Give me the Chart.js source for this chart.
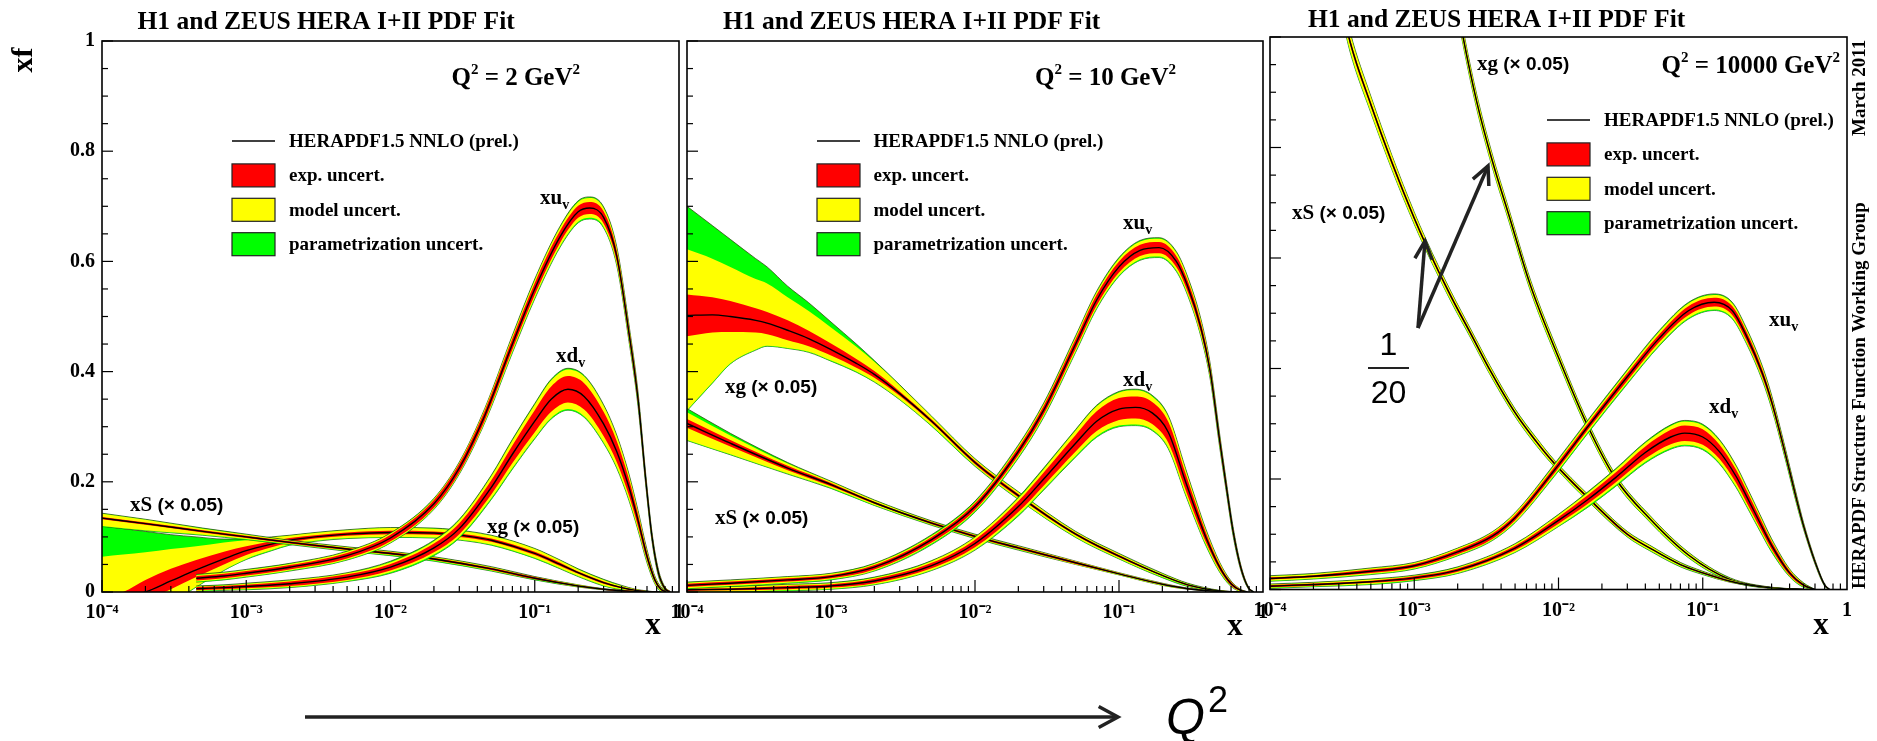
<!DOCTYPE html>
<html>
<head>
<meta charset="utf-8">
<title>HERAPDF1.5 NNLO</title>
<script src="https://cdn.jsdelivr.net/npm/chart.js@4.4.1/dist/chart.umd.min.js"></script>
<style>
html,body{margin:0;padding:0;background:#fff;}
#wrap{position:relative;width:1877px;height:741px;overflow:hidden;background:#fff;}
#wrap canvas{position:absolute;left:0;top:0;}
</style>
</head>
<body>
<div id="wrap">
<canvas id="c1" width="1877" height="741"></canvas>
<canvas id="c2" width="1877" height="741"></canvas>
<canvas id="c3" width="1877" height="741"></canvas>
</div>
<script>
// ---------------- tick labels ----------------
const X_TICKS = [1e-4, 1e-3, 1e-2, 1e-1, 1];
const X_TICK_LABELS = ['10\u207B\u2074', '10\u207B\u00B3', '10\u207B\u00B2', '10\u207B\u00B9', '1'];
const Y_TICKS = [0, 0.2, 0.4, 0.6, 0.8, 1];
const Y_TICK_LABELS = ['0', '0.2', '0.4', '0.6', '0.8', '1'];
const Q2_VALUES = ['2', '10', '10000'];

// ---------------- panel 1 : Q2 = 2 GeV2 ----------------
const P1_XUV_X = [4.5e-4, 7e-4, 1e-3, 2e-3, 5e-3, 1e-2, 2e-2, 3e-2, 4.5e-2, 7e-2, 0.1, 0.15, 0.2, 0.24, 0.3, 0.37, 0.45, 0.52, 0.59, 0.65, 0.72, 0.8, 0.87];
const P1_XUV = [0.025, 0.029, 0.034, 0.045, 0.066, 0.098, 0.16, 0.225, 0.32, 0.45, 0.55, 0.645, 0.69, 0.697, 0.68, 0.61, 0.47, 0.35, 0.2, 0.1, 0.035, 0.006, 0];
const P1_XUV_EXP = [0.004, 0.004, 0.004, 0.004, 0.005, 0.006, 0.007, 0.008, 0.009, 0.01, 0.011, 0.011, 0.011, 0.011, 0.011, 0.01, 0.009, 0.008, 0.006, 0.004, 0.003, 0.002, 0.001];
const P1_XUV_MOD = [0.006, 0.006, 0.006, 0.006, 0.007, 0.008, 0.009, 0.01, 0.012, 0.014, 0.016, 0.017, 0.018, 0.018, 0.017, 0.015, 0.013, 0.011, 0.009, 0.007, 0.005, 0.003, 0.001];
const P1_XUV_PAR = [0.007, 0.007, 0.007, 0.007, 0.008, 0.009, 0.01, 0.011, 0.013, 0.016, 0.018, 0.019, 0.02, 0.02, 0.019, 0.017, 0.015, 0.013, 0.01, 0.008, 0.006, 0.003, 0.001];

const P1_XDV_X = [4.5e-4, 7e-4, 1e-3, 2e-3, 5e-3, 1e-2, 2e-2, 3e-2, 5e-2, 7e-2, 0.1, 0.13, 0.17, 0.22, 0.3, 0.37, 0.45, 0.52, 0.6, 0.68, 0.75, 0.82];
const P1_XDV = [0.006, 0.008, 0.01, 0.015, 0.027, 0.045, 0.08, 0.115, 0.19, 0.25, 0.31, 0.35, 0.368, 0.355, 0.305, 0.255, 0.19, 0.13, 0.065, 0.022, 0.005, 0];
const P1_XDV_EXP = [0.003, 0.003, 0.003, 0.004, 0.005, 0.006, 0.008, 0.01, 0.013, 0.016, 0.02, 0.023, 0.024, 0.024, 0.022, 0.019, 0.015, 0.011, 0.007, 0.004, 0.002, 0.001];
const P1_XDV_MOD = [0.004, 0.004, 0.005, 0.006, 0.007, 0.009, 0.012, 0.015, 0.02, 0.025, 0.03, 0.034, 0.036, 0.036, 0.033, 0.028, 0.022, 0.016, 0.01, 0.006, 0.003, 0.001];
const P1_XDV_PAR = [0.005, 0.005, 0.006, 0.007, 0.008, 0.011, 0.014, 0.017, 0.022, 0.027, 0.032, 0.036, 0.038, 0.038, 0.035, 0.03, 0.024, 0.018, 0.012, 0.007, 0.004, 0.001];

const P1_XS_X = [1e-4, 2e-4, 5e-4, 1e-3, 2e-3, 5e-3, 1e-2, 2e-2, 5e-2, 0.1, 0.2, 0.3, 0.45, 0.6, 0.75];
const P1_XS = [0.134, 0.124, 0.11, 0.1, 0.09, 0.078, 0.07, 0.06, 0.042, 0.025, 0.011, 0.005, 0.0015, 0.0003, 0];
const P1_XS_EXP = [0.002, 0.002, 0.002, 0.002, 0.002, 0.002, 0.002, 0.002, 0.002, 0.002, 0.001, 0.001, 0.001, 0, 0];
const P1_XS_MOD_UP = [0.008, 0.007, 0.005, 0.004, 0.003, 0.003, 0.003, 0.003, 0.003, 0.002, 0.002, 0.001, 0.001, 0, 0];
const P1_XS_MOD_DN = [0.014, 0.012, 0.006, 0.004, 0.003, 0.003, 0.003, 0.003, 0.003, 0.002, 0.002, 0.001, 0.001, 0, 0];
const P1_XS_PAR_UP = [0.009, 0.008, 0.006, 0.005, 0.004, 0.004, 0.004, 0.004, 0.004, 0.003, 0.002, 0.001, 0.001, 0, 0];
const P1_XS_PAR_DN = [0.015, 0.013, 0.007, 0.005, 0.004, 0.004, 0.004, 0.004, 0.004, 0.003, 0.002, 0.001, 0.001, 0, 0];

const P1_XG_X = [1e-4, 1.4e-4, 2e-4, 3e-4, 4.5e-4, 7e-4, 1e-3, 1.5e-3, 2e-3, 3e-3, 5e-3, 1e-2, 2e-2, 3.5e-2, 5e-2, 0.1, 0.15, 0.2, 0.3, 0.4, 0.5, 0.6, 0.7];
const P1_XG = [-0.025, -0.01, 0.0, 0.02, 0.04, 0.06, 0.075, 0.087, 0.094, 0.1, 0.105, 0.108, 0.107, 0.101, 0.094, 0.07, 0.05, 0.035, 0.017, 0.008, 0.003, 0.001, 0];
const P1_XG_EXP_UP = [0.013, 0.01, 0.022, 0.022, 0.018, 0.013, 0.008, 0.005, 0.004, 0.003, 0.003, 0.003, 0.003, 0.003, 0.003, 0.003, 0.003, 0.002, 0.002, 0.001, 0.001, 0.0005, 0];
const P1_XG_EXP_DN = [0.025, 0.025, 0.015, 0.015, 0.013, 0.01, 0.008, 0.006, 0.004, 0.003, 0.003, 0.003, 0.003, 0.003, 0.003, 0.003, 0.003, 0.002, 0.002, 0.001, 0.001, 0.0005, 0];
const P1_XG_MOD_UP = [0.089, 0.078, 0.072, 0.058, 0.043, 0.03, 0.019, 0.012, 0.008, 0.007, 0.007, 0.008, 0.008, 0.008, 0.008, 0.008, 0.007, 0.006, 0.005, 0.003, 0.002, 0.001, 0];
const P1_XG_MOD_DN = [0.075, 0.07, 0.05, 0.04, 0.03, 0.02, 0.015, 0.011, 0.008, 0.007, 0.007, 0.008, 0.008, 0.008, 0.008, 0.008, 0.007, 0.006, 0.005, 0.003, 0.002, 0.001, 0];
const P1_XG_PAR_UP = [0.145, 0.125, 0.11, 0.084, 0.06, 0.036, 0.021, 0.013, 0.009, 0.008, 0.008, 0.009, 0.009, 0.009, 0.009, 0.009, 0.008, 0.007, 0.006, 0.004, 0.002, 0.001, 0];
const P1_XG_PAR_DN = [0.076, 0.071, 0.051, 0.041, 0.031, 0.021, 0.016, 0.012, 0.009, 0.008, 0.008, 0.009, 0.009, 0.009, 0.009, 0.009, 0.008, 0.007, 0.006, 0.004, 0.002, 0.001, 0];

// ---------------- panel 2 : Q2 = 10 GeV2 ----------------
const P2_XUV_X = [1e-4, 2e-4, 5e-4, 1e-3, 2e-3, 5e-3, 1e-2, 2e-2, 3e-2, 5e-2, 7e-2, 0.1, 0.14, 0.19, 0.25, 0.3, 0.37, 0.43, 0.5, 0.55, 0.62, 0.7, 0.79, 0.86];
const P2_XUV = [0.012, 0.016, 0.022, 0.028, 0.045, 0.095, 0.155, 0.255, 0.33, 0.45, 0.53, 0.59, 0.62, 0.625, 0.6, 0.555, 0.48, 0.40, 0.275, 0.2, 0.11, 0.045, 0.008, 0];
const P2_XUV_EXP = [0.003, 0.003, 0.003, 0.003, 0.004, 0.005, 0.006, 0.007, 0.008, 0.009, 0.01, 0.01, 0.01, 0.01, 0.01, 0.01, 0.009, 0.008, 0.007, 0.006, 0.004, 0.003, 0.001, 0];
const P2_XUV_MOD = [0.005, 0.005, 0.005, 0.005, 0.006, 0.007, 0.008, 0.01, 0.011, 0.013, 0.014, 0.015, 0.016, 0.016, 0.016, 0.015, 0.014, 0.012, 0.01, 0.008, 0.006, 0.004, 0.002, 0];
const P2_XUV_PAR = [0.006, 0.006, 0.006, 0.006, 0.007, 0.009, 0.01, 0.012, 0.013, 0.015, 0.016, 0.017, 0.018, 0.018, 0.018, 0.017, 0.016, 0.014, 0.012, 0.01, 0.008, 0.005, 0.002, 0];

const P2_XDV_X = [1e-4, 2e-4, 5e-4, 1e-3, 2e-3, 5e-3, 1e-2, 2e-2, 3e-2, 5e-2, 7e-2, 0.1, 0.13, 0.17, 0.22, 0.29, 0.35, 0.4, 0.5, 0.6, 0.7, 0.78];
const P2_XDV = [0.004, 0.005, 0.008, 0.011, 0.02, 0.048, 0.088, 0.155, 0.205, 0.27, 0.31, 0.332, 0.335, 0.325, 0.29, 0.2, 0.14, 0.1, 0.045, 0.015, 0.003, 0];
const P2_XDV_EXP = [0.002, 0.002, 0.003, 0.003, 0.004, 0.005, 0.007, 0.01, 0.012, 0.015, 0.018, 0.02, 0.02, 0.02, 0.019, 0.015, 0.012, 0.009, 0.005, 0.003, 0.001, 0];
const P2_XDV_MOD = [0.004, 0.004, 0.005, 0.005, 0.006, 0.008, 0.011, 0.015, 0.018, 0.023, 0.027, 0.03, 0.031, 0.03, 0.028, 0.022, 0.017, 0.013, 0.008, 0.004, 0.002, 0];
const P2_XDV_PAR = [0.005, 0.005, 0.006, 0.006, 0.007, 0.009, 0.012, 0.017, 0.02, 0.025, 0.029, 0.032, 0.033, 0.032, 0.03, 0.024, 0.019, 0.015, 0.009, 0.005, 0.002, 0];

const P2_XS_X = [1e-4, 2e-4, 5e-4, 1e-3, 2e-3, 5e-3, 1e-2, 2e-2, 5e-2, 0.1, 0.2, 0.3, 0.5, 0.7];
const P2_XS = [0.306, 0.27, 0.225, 0.195, 0.162, 0.125, 0.101, 0.08, 0.053, 0.033, 0.014, 0.006, 0.001, 0];
const P2_XS_EXP = [0.008, 0.006, 0.004, 0.003, 0.002, 0.002, 0.002, 0.002, 0.002, 0.001, 0.001, 0.001, 0, 0];
const P2_XS_MOD_UP = [0.02, 0.014, 0.008, 0.005, 0.004, 0.003, 0.003, 0.003, 0.003, 0.002, 0.002, 0.001, 0, 0];
const P2_XS_MOD_DN = [0.03, 0.02, 0.01, 0.006, 0.004, 0.003, 0.003, 0.003, 0.003, 0.002, 0.002, 0.001, 0, 0];
const P2_XS_PAR_UP = [0.027, 0.018, 0.01, 0.006, 0.005, 0.004, 0.004, 0.004, 0.003, 0.002, 0.002, 0.001, 0, 0];
const P2_XS_PAR_DN = [0.031, 0.021, 0.011, 0.007, 0.005, 0.004, 0.004, 0.004, 0.003, 0.002, 0.002, 0.001, 0, 0];

const P2_XG_X = [1e-4, 1.5e-4, 2e-4, 3e-4, 3.6e-4, 5e-4, 7e-4, 1e-3, 1.5e-3, 2e-3, 3e-3, 5e-3, 1e-2, 2e-2, 5e-2, 0.1, 0.2, 0.3, 0.5, 0.7];
const P2_XG = [0.502, 0.503, 0.5, 0.493, 0.488, 0.475, 0.46, 0.44, 0.415, 0.395, 0.36, 0.31, 0.235, 0.175, 0.105, 0.065, 0.03, 0.013, 0.002, 0];
const P2_XG_EXP = [0.038, 0.032, 0.028, 0.022, 0.02, 0.018, 0.014, 0.011, 0.008, 0.006, 0.004, 0.003, 0.003, 0.003, 0.002, 0.002, 0.001, 0.001, 0, 0];
const P2_XG_MOD_UP = [0.12, 0.102, 0.09, 0.075, 0.072, 0.06, 0.05, 0.04, 0.03, 0.023, 0.015, 0.008, 0.006, 0.006, 0.004, 0.004, 0.003, 0.002, 0.001, 0];
const P2_XG_MOD_DN = [0.172, 0.123, 0.085, 0.053, 0.041, 0.032, 0.024, 0.02, 0.015, 0.013, 0.01, 0.008, 0.006, 0.006, 0.005, 0.004, 0.003, 0.002, 0.001, 0];
const P2_XG_PAR_UP = [0.198, 0.162, 0.14, 0.112, 0.102, 0.08, 0.065, 0.05, 0.035, 0.025, 0.016, 0.009, 0.007, 0.007, 0.005, 0.005, 0.004, 0.003, 0.001, 0];
const P2_XG_PAR_DN = [0.173, 0.124, 0.086, 0.054, 0.042, 0.033, 0.025, 0.021, 0.016, 0.014, 0.011, 0.009, 0.007, 0.007, 0.006, 0.005, 0.004, 0.003, 0.001, 0];

// ---------------- panel 3 : Q2 = 10000 GeV2 ----------------
const P3_XUV_X = [1e-4, 2e-4, 5e-4, 1e-3, 2e-3, 3.5e-3, 5e-3, 9.3e-3, 1.6e-2, 3e-2, 5e-2, 8e-2, 0.12, 0.16, 0.2, 0.26, 0.3, 0.37, 0.45, 0.5, 0.6, 0.7, 0.76];
const P3_XUV = [0.02, 0.024, 0.033, 0.043, 0.068, 0.097, 0.13, 0.215, 0.295, 0.385, 0.455, 0.505, 0.52, 0.505, 0.46, 0.39, 0.34, 0.25, 0.16, 0.115, 0.05, 0.008, 0];
const P3_XUV_EXP = [0.002, 0.002, 0.003, 0.003, 0.004, 0.005, 0.005, 0.006, 0.006, 0.007, 0.007, 0.008, 0.008, 0.008, 0.008, 0.007, 0.006, 0.005, 0.004, 0.003, 0.002, 0.001, 0];
const P3_XUV_MOD = [0.004, 0.004, 0.005, 0.005, 0.006, 0.007, 0.008, 0.009, 0.01, 0.011, 0.012, 0.013, 0.013, 0.013, 0.012, 0.011, 0.01, 0.008, 0.006, 0.005, 0.003, 0.001, 0];
const P3_XUV_PAR = [0.005, 0.005, 0.006, 0.006, 0.007, 0.008, 0.009, 0.011, 0.012, 0.013, 0.014, 0.015, 0.015, 0.015, 0.014, 0.013, 0.012, 0.01, 0.008, 0.006, 0.004, 0.002, 0];

const P3_XDV_X = [1e-4, 2e-4, 5e-4, 1e-3, 2e-3, 5e-3, 1e-2, 1.6e-2, 2.5e-2, 4e-2, 6e-2, 7.5e-2, 0.1, 0.13, 0.17, 0.2, 0.25, 0.3, 0.4, 0.5, 0.6];
const P3_XDV = [0.006, 0.009, 0.014, 0.021, 0.035, 0.075, 0.125, 0.163, 0.203, 0.248, 0.276, 0.283, 0.276, 0.25, 0.205, 0.17, 0.12, 0.08, 0.03, 0.008, 0];
const P3_XDV_EXP = [0.002, 0.002, 0.002, 0.003, 0.003, 0.004, 0.006, 0.008, 0.009, 0.011, 0.013, 0.014, 0.014, 0.013, 0.012, 0.011, 0.009, 0.007, 0.004, 0.002, 0];
const P3_XDV_MOD = [0.003, 0.003, 0.004, 0.004, 0.005, 0.007, 0.01, 0.012, 0.014, 0.017, 0.02, 0.021, 0.021, 0.02, 0.018, 0.016, 0.013, 0.01, 0.006, 0.003, 0];
const P3_XDV_PAR = [0.004, 0.004, 0.005, 0.005, 0.006, 0.008, 0.011, 0.014, 0.016, 0.019, 0.022, 0.023, 0.023, 0.022, 0.02, 0.018, 0.015, 0.012, 0.007, 0.004, 0];

const P3_XS_X = [1e-4, 1.5e-4, 2e-4, 3e-4, 3.6e-4, 5e-4, 7e-4, 1e-3, 1.2e-3, 1.8e-3, 2.5e-3, 3.35e-3, 5e-3, 7e-3, 9.3e-3, 1.6e-2, 3e-2, 4.3e-2, 7e-2, 0.1, 0.155, 0.2, 0.3, 0.5];
const P3_XS = [1.6, 1.38, 1.24, 1.08, 0.99, 0.878, 0.773, 0.672, 0.625, 0.53, 0.46, 0.397, 0.32, 0.268, 0.229, 0.166, 0.1, 0.075, 0.045, 0.03, 0.015, 0.009, 0.003, 0];
const P3_XS_EXP = [0.01, 0.008, 0.007, 0.005, 0.005, 0.004, 0.004, 0.003, 0.003, 0.003, 0.003, 0.002, 0.002, 0.002, 0.002, 0.002, 0.002, 0.001, 0.001, 0.001, 0.001, 0, 0, 0];
const P3_XS_MOD = [0.03, 0.025, 0.022, 0.018, 0.016, 0.014, 0.012, 0.01, 0.009, 0.008, 0.007, 0.007, 0.006, 0.006, 0.005, 0.005, 0.004, 0.004, 0.003, 0.002, 0.002, 0.001, 0.001, 0];
const P3_XS_PAR = [0.032, 0.027, 0.024, 0.02, 0.018, 0.015, 0.013, 0.011, 0.01, 0.009, 0.008, 0.008, 0.007, 0.007, 0.006, 0.006, 0.005, 0.005, 0.004, 0.003, 0.002, 0.001, 0.001, 0];

const P3_XG_X = [1e-3, 1.4e-3, 1.8e-3, 2.18e-3, 2.7e-3, 3.44e-3, 4.5e-3, 6.4e-3, 1e-2, 1.6e-2, 2.5e-2, 4.3e-2, 8e-2, 0.155, 0.3, 0.5];
const P3_XG = [1.58, 1.3, 1.12, 1.0, 0.885, 0.78, 0.68, 0.55, 0.42, 0.295, 0.2, 0.128, 0.062, 0.018, 0.003, 0];
const P3_XG_EXP = [0.006, 0.005, 0.004, 0.004, 0.003, 0.003, 0.003, 0.003, 0.002, 0.002, 0.002, 0.001, 0.001, 0.001, 0, 0];
const P3_XG_MOD = [0.02, 0.017, 0.015, 0.013, 0.012, 0.011, 0.01, 0.009, 0.008, 0.007, 0.006, 0.005, 0.004, 0.002, 0.001, 0];
const P3_XG_PAR = [0.021, 0.018, 0.016, 0.014, 0.013, 0.012, 0.011, 0.01, 0.009, 0.008, 0.007, 0.006, 0.005, 0.003, 0.001, 0];

// ---------------- layout & style ----------------
const W = 1877, H = 741, YW = 40, XH = 40;
const SERIF = '"Liberation Serif", "Times New Roman", serif';
const SANS = '"Liberation Sans", Arial, sans-serif';
const RED = '#ff0000', YEL = '#ffff00', GRN = '#00ff00', EDGE = 'rgba(45,70,15,0.85)';
const fb = (s) => 'bold ' + s + 'px ' + SERIF;

function curve(x, c, eU, eD, mU, mD, pU, pD) { return { x, c, eU, eD, mU, mD, pU, pD }; }

const P1_CURVES = [
  curve(P1_XUV_X, P1_XUV, P1_XUV_EXP, P1_XUV_EXP, P1_XUV_MOD, P1_XUV_MOD, P1_XUV_PAR, P1_XUV_PAR),
  curve(P1_XDV_X, P1_XDV, P1_XDV_EXP, P1_XDV_EXP, P1_XDV_MOD, P1_XDV_MOD, P1_XDV_PAR, P1_XDV_PAR),
  curve(P1_XS_X, P1_XS, P1_XS_EXP, P1_XS_EXP, P1_XS_MOD_UP, P1_XS_MOD_DN, P1_XS_PAR_UP, P1_XS_PAR_DN),
  curve(P1_XG_X, P1_XG, P1_XG_EXP_UP, P1_XG_EXP_DN, P1_XG_MOD_UP, P1_XG_MOD_DN, P1_XG_PAR_UP, P1_XG_PAR_DN)
];
const P2_CURVES = [
  curve(P2_XUV_X, P2_XUV, P2_XUV_EXP, P2_XUV_EXP, P2_XUV_MOD, P2_XUV_MOD, P2_XUV_PAR, P2_XUV_PAR),
  curve(P2_XDV_X, P2_XDV, P2_XDV_EXP, P2_XDV_EXP, P2_XDV_MOD, P2_XDV_MOD, P2_XDV_PAR, P2_XDV_PAR),
  curve(P2_XS_X, P2_XS, P2_XS_EXP, P2_XS_EXP, P2_XS_MOD_UP, P2_XS_MOD_DN, P2_XS_PAR_UP, P2_XS_PAR_DN),
  curve(P2_XG_X, P2_XG, P2_XG_EXP, P2_XG_EXP, P2_XG_MOD_UP, P2_XG_MOD_DN, P2_XG_PAR_UP, P2_XG_PAR_DN)
];
const P3_CURVES = [
  curve(P3_XUV_X, P3_XUV, P3_XUV_EXP, P3_XUV_EXP, P3_XUV_MOD, P3_XUV_MOD, P3_XUV_PAR, P3_XUV_PAR),
  curve(P3_XDV_X, P3_XDV, P3_XDV_EXP, P3_XDV_EXP, P3_XDV_MOD, P3_XDV_MOD, P3_XDV_PAR, P3_XDV_PAR),
  curve(P3_XS_X, P3_XS, P3_XS_EXP, P3_XS_EXP, P3_XS_MOD, P3_XS_MOD, P3_XS_PAR, P3_XS_PAR),
  curve(P3_XG_X, P3_XG, P3_XG_EXP, P3_XG_EXP, P3_XG_MOD, P3_XG_MOD, P3_XG_PAR, P3_XG_PAR)
];

function bandDatasets(cv, base) {
  const pts = (arr) => cv.x.map((x, i) => ({ x: x, y: arr[i] }));
  const edge = (w, s) => cv.c.map((v, i) => v + s * w[i]);
  const common = { pointRadius: 0, pointHoverRadius: 0, cubicInterpolationMode: 'monotone', borderWidth: 0, borderColor: 'rgba(0,0,0,0)' };
  return [
    Object.assign({}, common, { data: pts(edge(cv.pU, 1)), fill: '+1', backgroundColor: GRN, borderWidth: 0.9, borderColor: EDGE, order: base + 3 }),
    Object.assign({}, common, { data: pts(edge(cv.pD, -1)), fill: false, borderWidth: 0.9, borderColor: EDGE, order: base + 3 }),
    Object.assign({}, common, { data: pts(edge(cv.mU, 1)), fill: '+1', backgroundColor: YEL, order: base + 2 }),
    Object.assign({}, common, { data: pts(edge(cv.mD, -1)), fill: false, order: base + 2 }),
    Object.assign({}, common, { data: pts(edge(cv.eU, 1)), fill: '+1', backgroundColor: RED, order: base + 1 }),
    Object.assign({}, common, { data: pts(edge(cv.eD, -1)), fill: false, order: base + 1 }),
    Object.assign({}, common, { data: pts(cv.c), fill: false, borderWidth: 1.4, borderColor: '#000', order: base })
  ];
}

// frame + inward tick marks, positioned through the chart scales
const framePlugin = {
  id: 'frame',
  afterDatasetsDraw(chart) {
    const { ctx, chartArea: a, scales } = chart;
    const sx = scales.x, sy = scales.y;
    ctx.save();
    ctx.strokeStyle = '#000';
    ctx.lineWidth = 1.2;
    for (let k = 0; k <= 20; k++) {
      const v = k / 20, py = sy.getPixelForValue(v);
      ctx.beginPath(); ctx.moveTo(a.left, py); ctx.lineTo(a.left + (k % 4 === 0 ? 11 : 6), py); ctx.stroke();
    }
    for (let d = -4; d < 0; d++) {
      for (let m = 1; m <= 9; m++) {
        const px = sx.getPixelForValue(m * Math.pow(10, d));
        ctx.beginPath(); ctx.moveTo(px, a.bottom); ctx.lineTo(px, a.bottom - (m === 1 ? 12 : 6)); ctx.stroke();
      }
    }
    ctx.lineWidth = 1.6;
    ctx.strokeRect(a.left, a.top, a.right - a.left, a.bottom - a.top);
    ctx.restore();
  }
};

function rich(ctx, x, y, parts, align) {
  let total = 0;
  parts.forEach(p => { ctx.font = p[1]; p.w = ctx.measureText(p[0]).width; total += p.w; });
  let cx = align === 'right' ? x - total : (align === 'center' ? x - total / 2 : x);
  ctx.textAlign = 'left';
  parts.forEach(p => { ctx.font = p[1]; ctx.fillText(p[0], cx, y + (p[2] || 0)); cx += p.w; });
}

function arrow(ctx, x0, y0, x1, y1, lw, hl, ha) {
  ctx.lineWidth = lw; ctx.lineJoin = 'miter'; ctx.lineCap = 'butt';
  ctx.beginPath(); ctx.moveTo(x0, y0); ctx.lineTo(x1, y1); ctx.stroke();
  const a = Math.atan2(y1 - y0, x1 - x0);
  ctx.beginPath();
  ctx.moveTo(x1 - hl * Math.cos(a - ha), y1 - hl * Math.sin(a - ha));
  ctx.lineTo(x1, y1);
  ctx.lineTo(x1 - hl * Math.cos(a + ha), y1 - hl * Math.sin(a + ha));
  ctx.stroke();
}

function sub(main, s) { return [[main, fb(21)], [s, fb(14), 5]]; }
function scaled(name) { return [[name + ' ', fb(21)], ['(\u00D7 0.05)', 'bold 19px ' + SANS]]; }

function makeTextPlugin(cfg) {
  return {
    id: 'txt' + cfg.id,
    afterDraw(chart) {
      const ctx = chart.ctx;
      ctx.save();
      ctx.fillStyle = '#000'; ctx.strokeStyle = '#000'; ctx.textBaseline = 'alphabetic';
      // title
      ctx.font = fb(25.5); ctx.textAlign = 'left';
      ctx.fillText('H1 and ZEUS HERA I+II PDF Fit', cfg.title[0], cfg.title[1]);
      // Q2 label
      rich(ctx, cfg.q2[0], cfg.q2[1], [['Q', fb(25)], ['2', fb(15), -11], [' = ' + cfg.q2v + ' GeV', fb(25)], ['2', fb(15), -11]], 'right');
      // legend
      const lx = cfg.leg[0], ly = cfg.leg[1], tx = cfg.leg[2], dy = 34.4;
      ctx.lineWidth = 1.3;
      ctx.beginPath(); ctx.moveTo(lx, ly); ctx.lineTo(lx + 43, ly); ctx.stroke();
      ctx.font = fb(19); ctx.textBaseline = 'middle';
      ctx.fillText('HERAPDF1.5 NNLO (prel.)', tx, ly + 1);
      const rows = [[RED, 'exp. uncert.'], [YEL, 'model uncert.'], [GRN, 'parametrization uncert.']];
      rows.forEach((r, i) => {
        const cy = ly + dy * (i + 1);
        ctx.fillStyle = r[0]; ctx.fillRect(lx, cy - 11.5, 43, 23);
        ctx.strokeStyle = '#222'; ctx.lineWidth = 1.2; ctx.strokeRect(lx, cy - 11.5, 43, 23);
        ctx.fillStyle = '#000'; ctx.fillText(r[1], tx, cy + 1);
      });
      ctx.textBaseline = 'alphabetic';
      // curve labels
      cfg.labels.forEach(l => rich(ctx, l[1], l[2], l[0], 'left'));
      // x axis title
      ctx.font = fb(31); ctx.textAlign = 'center';
      ctx.fillText('x', cfg.xt[0], cfg.xt[1]);
      if (cfg.yTitle) {
        ctx.save(); ctx.translate(24, 60); ctx.rotate(-Math.PI / 2);
        ctx.font = fb(30); ctx.textAlign = 'center'; ctx.textBaseline = 'middle';
        ctx.fillText('xf', 0, 0); ctx.restore();
      }
      if (cfg.extras) {
        // side texts
        ctx.save(); ctx.translate(1860, 589); ctx.rotate(-Math.PI / 2);
        ctx.font = fb(19); ctx.textAlign = 'left'; ctx.textBaseline = 'middle';
        ctx.fillText('HERAPDF Structure Function Working Group', 0, 0); ctx.restore();
        ctx.save(); ctx.translate(1860, 136); ctx.rotate(-Math.PI / 2);
        ctx.font = fb(19); ctx.textAlign = 'left'; ctx.textBaseline = 'middle';
        ctx.fillText('March 2011', 0, 0); ctx.restore();
        // 1/20 annotation
        ctx.font = '32px ' + SANS; ctx.textAlign = 'center';
        ctx.fillText('1', 1388.5, 355);
        ctx.fillText('20', 1388.5, 403);
        ctx.lineWidth = 2; ctx.beginPath(); ctx.moveTo(1368, 368); ctx.lineTo(1409, 368); ctx.stroke();
        arrow(ctx, 1418, 328, 1425, 241, 3.5, 20, 0.45);
        arrow(ctx, 1418, 328, 1488, 166, 3.5, 20, 0.45);
        // Q2 arrow at the bottom
        arrow(ctx, 305, 717, 1118, 717, 3.5, 22, 0.5);
        ctx.textAlign = 'left';
        ctx.font = 'italic 50px ' + SANS; ctx.fillText('Q', 1166, 734);
        ctx.font = '36px ' + SANS; ctx.fillText('2', 1208, 712);
      }
      ctx.restore();
    }
  };
}

function makePanel(id, rect, curves, showY, cfg) {
  const datasets = [];
  curves.forEach((cv, k) => bandDatasets(cv, k * 10).forEach(d => datasets.push(d)));
  return new Chart(document.getElementById(id), {
    type: 'line',
    data: { datasets: datasets },
    options: {
      responsive: false, animation: false, devicePixelRatio: 1, events: [],
      layout: { padding: { left: rect.l - YW, top: rect.t, right: W - rect.r, bottom: H - rect.b - XH } },
      scales: {
        x: {
          type: 'logarithmic', min: 1e-4, max: 1, position: 'bottom',
          afterFit: (s) => { s.height = XH; },
          afterBuildTicks: (s) => { s.ticks = X_TICKS.map(v => ({ value: v })); },
          ticks: { autoSkip: false, maxRotation: 0, minRotation: 0, padding: 9, color: '#000',
                   font: { family: SERIF, size: 20, weight: 'bold' },
                   callback: (v, i) => X_TICK_LABELS[i] },
          grid: { display: false, drawTicks: false }, border: { display: false }
        },
        y: {
          type: 'linear', min: 0, max: 1, position: 'left',
          afterFit: (s) => { s.width = YW; },
          afterBuildTicks: (s) => { s.ticks = Y_TICKS.map(v => ({ value: v })); },
          ticks: { display: showY, padding: 7, color: '#000',
                   font: { family: SERIF, size: 20, weight: 'bold' },
                   callback: (v, i) => Y_TICK_LABELS[i] },
          grid: { display: false, drawTicks: false }, border: { display: false }
        }
      },
      plugins: { legend: { display: false }, tooltip: { enabled: false } }
    },
    plugins: [framePlugin, makeTextPlugin(cfg)]
  });
}

makePanel('c1', { l: 102, t: 41, r: 679, b: 592 }, P1_CURVES, true, {
  id: 1, title: [137.5, 28.5], q2: [580, 85], q2v: Q2_VALUES[0], leg: [232, 141, 289], xt: [653, 634], yTitle: true,
  labels: [[sub('xu', 'v'), 540, 204], [sub('xd', 'v'), 556, 362], [scaled('xS'), 130, 511], [scaled('xg'), 487, 533]]
});
makePanel('c2', { l: 687, t: 41, r: 1263, b: 592 }, P2_CURVES, false, {
  id: 2, title: [723, 28.5], q2: [1176, 85], q2v: Q2_VALUES[1], leg: [817, 141, 873.5], xt: [1235, 635],
  labels: [[sub('xu', 'v'), 1123, 229], [sub('xd', 'v'), 1123, 386], [scaled('xg'), 725, 393], [scaled('xS'), 715, 524]]
});
makePanel('c3', { l: 1270, t: 37, r: 1847, b: 589.5 }, P3_CURVES, false, {
  id: 3, title: [1308, 27], q2: [1840, 73], q2v: Q2_VALUES[2], leg: [1547, 120, 1604], xt: [1821, 634], extras: true,
  labels: [[scaled('xg'), 1477, 70], [scaled('xS'), 1292, 219], [sub('xu', 'v'), 1769, 326], [sub('xd', 'v'), 1709, 413]]
});
</script>
</body>
</html>
